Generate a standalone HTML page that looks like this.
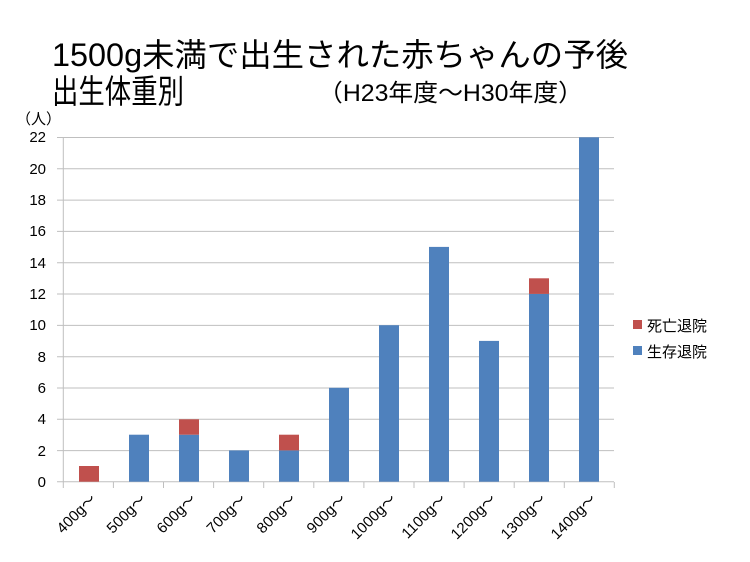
<!DOCTYPE html>
<html><head><meta charset="utf-8"><style>
body{margin:0;background:#fff;}
svg{display:block;font-family:"Liberation Sans","Noto Sans CJK JP",sans-serif;}
</style></head><body>
<svg width="750" height="562" viewBox="0 0 750 562" xmlns="http://www.w3.org/2000/svg">
<rect width="750" height="562" fill="#fff"/>
<text x="52" y="66" font-size="32" textLength="576" lengthAdjust="spacingAndGlyphs" fill="#000">1500g未満で出生された赤ちゃんの予後</text>
<text x="52" y="103" font-size="33" textLength="132" lengthAdjust="spacingAndGlyphs" fill="#000">出生体重別</text>
<text x="318" y="101" font-size="24" textLength="265" lengthAdjust="spacingAndGlyphs" fill="#000">（H23年度～H30年度）</text>
<text x="16" y="124" font-size="15" fill="#000">（人）</text>
<g stroke="#bfbfbf" stroke-width="1">
<line x1="57" y1="137.5" x2="614" y2="137.5"/>
<line x1="57" y1="168.8" x2="614" y2="168.8"/>
<line x1="57" y1="200.1" x2="614" y2="200.1"/>
<line x1="57" y1="231.4" x2="614" y2="231.4"/>
<line x1="57" y1="262.7" x2="614" y2="262.7"/>
<line x1="57" y1="294" x2="614" y2="294"/>
<line x1="57" y1="325.4" x2="614" y2="325.4"/>
<line x1="57" y1="356.7" x2="614" y2="356.7"/>
<line x1="57" y1="388" x2="614" y2="388"/>
<line x1="57" y1="419.3" x2="614" y2="419.3"/>
<line x1="57" y1="450.6" x2="614" y2="450.6"/>
<line x1="57" y1="481.7" x2="614" y2="481.7"/>
<line x1="63.3" y1="137" x2="63.3" y2="488"/>
</g>
<g stroke="#bfbfbf">
<line x1="113.4" y1="482" x2="113.4" y2="488"/><line x1="163.5" y1="482" x2="163.5" y2="488"/><line x1="213.6" y1="482" x2="213.6" y2="488"/><line x1="263.7" y1="482" x2="263.7" y2="488"/><line x1="313.8" y1="482" x2="313.8" y2="488"/><line x1="363.9" y1="482" x2="363.9" y2="488"/><line x1="414" y1="482" x2="414" y2="488"/><line x1="464.1" y1="482" x2="464.1" y2="488"/><line x1="514.2" y1="482" x2="514.2" y2="488"/><line x1="564.3" y1="482" x2="564.3" y2="488"/><line x1="614.3" y1="482" x2="614.3" y2="488"/>
</g>
<g font-size="15" fill="#000" text-anchor="end">
<text x="46" y="142">22</text><text x="46" y="174">20</text><text x="46" y="205">18</text><text x="46" y="236">16</text><text x="46" y="268">14</text><text x="46" y="299">12</text><text x="46" y="330">10</text><text x="46" y="362">8</text><text x="46" y="393">6</text><text x="46" y="424">4</text><text x="46" y="456">2</text><text x="46" y="487">0</text>
</g>
<g>
<rect x="79" y="466" width="20" height="15.7" fill="#c0504d"/>
<rect x="129" y="434.7" width="20" height="47" fill="#4f81bd"/>
<rect x="179" y="434.7" width="20" height="47" fill="#4f81bd"/>
<rect x="179" y="419.3" width="20" height="15.4" fill="#c0504d"/>
<rect x="229" y="450.4" width="20" height="31.3" fill="#4f81bd"/>
<rect x="279" y="450.4" width="20" height="31.3" fill="#4f81bd"/>
<rect x="279" y="434.7" width="20" height="15.7" fill="#c0504d"/>
<rect x="329" y="387.8" width="20" height="93.9" fill="#4f81bd"/>
<rect x="379" y="325.2" width="20" height="156.5" fill="#4f81bd"/>
<rect x="429" y="246.9" width="20" height="234.8" fill="#4f81bd"/>
<rect x="479" y="340.9" width="20" height="140.8" fill="#4f81bd"/>
<rect x="529" y="293.9" width="20" height="187.8" fill="#4f81bd"/>
<rect x="529" y="278.3" width="20" height="15.6" fill="#c0504d"/>
<rect x="579" y="137.3" width="20" height="344.4" fill="#4f81bd"/>
</g>
<g font-size="15" fill="#000" text-anchor="end">
<text transform="translate(97,500) rotate(-45)">400g～</text>
<text transform="translate(147,500) rotate(-45)">500g～</text>
<text transform="translate(197,500) rotate(-45)">600g～</text>
<text transform="translate(247,500) rotate(-45)">700g～</text>
<text transform="translate(297,500) rotate(-45)">800g～</text>
<text transform="translate(347,500) rotate(-45)">900g～</text>
<text transform="translate(397,500) rotate(-45)">1000g～</text>
<text transform="translate(447,500) rotate(-45)">1100g～</text>
<text transform="translate(497,500) rotate(-45)">1200g～</text>
<text transform="translate(547,500) rotate(-45)">1300g～</text>
<text transform="translate(597,500) rotate(-45)">1400g～</text>
</g>
<rect x="633" y="320" width="9" height="9" fill="#c0504d"/>
<text x="647" y="331" font-size="15" fill="#000">死亡退院</text>
<rect x="633" y="346" width="9" height="9" fill="#4f81bd"/>
<text x="647" y="357" font-size="15" fill="#000">生存退院</text>
</svg>
</body></html>
